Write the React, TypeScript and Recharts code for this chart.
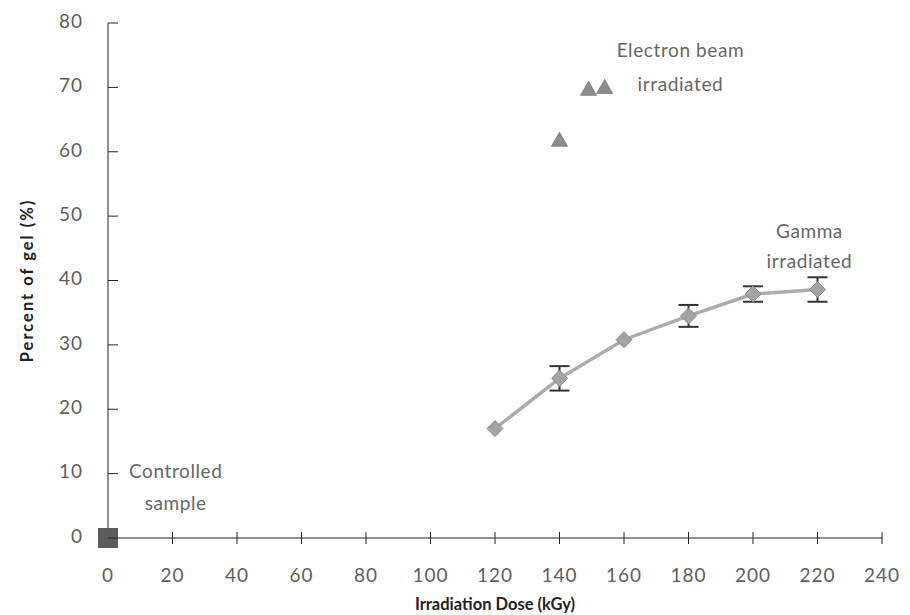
import { ComposedChart, Line, Scatter, XAxis, YAxis, ErrorBar, ReferenceDot } from "recharts";

const doseTicks = [0, 20, 40, 60, 80, 100, 120, 140, 160, 180, 200, 220, 240];
const gelTicks = [0, 10, 20, 30, 40, 50, 60, 70, 80];

const gammaDose = [120, 140, 160, 180, 200, 220];
const gammaGel = [17, 24.8, 30.8, 34.5, 37.9, 38.6];
// no visible error bar at 120 and 160
const gammaErr = [null, 1.9, null, 1.7, 1.2, 1.9];

const electronDose = [140, 149, 154];
const electronGel = [61.8, 69.7, 70];

const controlDose = [0];
const controlGel = [0];

const gamma = gammaDose.map((x, i) => ({ x, y: gammaGel[i], err: gammaErr[i] }));
const electron = electronDose.map((x, i) => ({ x, y: electronGel[i] }));
const control = controlDose.map((x, i) => ({ x, y: controlGel[i] }));

const notes = [
  { x: 177.5, y: 75.5, lines: ["Electron beam", "irradiated"], gap: 34 },
  { x: 217.5, y: 47.4, lines: ["Gamma", "irradiated"], gap: 30 },
  { x: 21, y: 10.1, lines: ["Controlled", "sample"], gap: 32 },
];

const FONT = "Lato, 'Open Sans', sans-serif";
const TICK = "#5e5e5e";

const XTick = (p: any) => (
  <g>
    {p.payload.value !== 0 && <line x1={p.x} x2={p.x} y1={p.y - 6} y2={p.y + 6} stroke="#222" />}
    <text x={p.x} y={p.y + 39} textAnchor="middle" dominantBaseline="middle" fontSize={19} letterSpacing={1} fontFamily={FONT} fill={TICK}>
      {p.payload.value}
    </text>
  </g>
);

const YTick = (p: any) => (
  <g>
    <line x1={p.x} x2={p.x + 10} y1={p.y} y2={p.y} stroke="#222" />
    <text x={p.x - 25} y={p.y} textAnchor="end" dominantBaseline="middle" fontSize={19} letterSpacing={1} fontFamily={FONT} fill={TICK}>
      {p.payload.value}
    </text>
  </g>
);

const Diamond = (p: any) => {
  const { cx, cy } = p;
  if (cx == null || cy == null) return <g />;
  const r = 8;
  return (
    <polygon
      points={`${cx},${cy - r} ${cx + r},${cy} ${cx},${cy + r} ${cx - r},${cy}`}
      fill="#a3a3a3"
      stroke="#8a8a8a"
      strokeWidth={1}
    />
  );
};

const Hidden = () => <g />;

const Triangle = (p: any) => {
  const { cx, cy } = p;
  const w = 8;
  return (
    <polygon points={`${cx},${cy - 8} ${cx + w},${cy + 6} ${cx - w},${cy + 6}`} fill="#8c8c8c" stroke="#777" strokeWidth={0.8} />
  );
};

const Square = (p: any) => {
  const { cx, cy } = p;
  return <rect x={cx - 10} y={cy - 10} width={20} height={20} fill="#5a5a5a" />;
};

const Note = (note: (typeof notes)[number]) => (p: any) => (
  <text x={p.cx} y={p.cy} textAnchor="middle" dominantBaseline="middle" fontSize={19} letterSpacing={0.6} fontFamily={FONT} fill="#666">
    {note.lines.map((l, i) => (
      <tspan key={i} x={p.cx} dy={i === 0 ? 0 : note.gap}>{l}</tspan>
    ))}
  </text>
);

export default function App() {
  return (
    <div style={{ position: "absolute", left: 0, top: 0, width: 910, height: 615, background: "#fff" }}>
      <ComposedChart width={910} height={615} margin={{ top: 23, right: 28, bottom: 0, left: 0 }}>
        <XAxis
          type="number"
          dataKey="x"
          domain={[0, 240]}
          ticks={doseTicks}
          interval={0}
          tickSize={0}
          tickMargin={0}
          tick={XTick}
          stroke="#222"
          allowDuplicatedCategory={false}
          label={{ value: "Irradiation Dose (kGy)", position: "insideBottom", offset: 0, dy: -5, fontSize: 16.5, fontWeight: 700, fontFamily: FONT, fill: "#222" }}
          height={77}
        />
        <YAxis
          type="number"
          dataKey="y"
          domain={[0, 80]}
          ticks={gelTicks}
          interval={0}
          width={108}
          tickSize={0}
          tickMargin={0}
          tick={YTick}
          stroke="#222"
          label={{ value: "Percent of gel (%)", angle: -90, position: "insideLeft", dx: 22, dy: 0, fontSize: 16.5, fontWeight: 700, letterSpacing: 2, fontFamily: FONT, fill: "#222", style: { textAnchor: "middle" } }}
        />
        <Line
          data={gamma}
          dataKey="y"
          stroke="#ababab"
          strokeWidth={3.5}
          dot={false}
          activeDot={false}
          isAnimationActive={false}
        />
        <Scatter data={gamma} dataKey="y" shape={Hidden} isAnimationActive={false}>
          <ErrorBar dataKey="err" direction="y" width={10} stroke="#333" strokeWidth={2} />
        </Scatter>
        <Scatter data={gamma} dataKey="y" shape={Diamond} isAnimationActive={false} />
        <Scatter data={electron} dataKey="y" shape={Triangle} isAnimationActive={false} />
        <Scatter data={control} dataKey="y" shape={Square} isAnimationActive={false} />
        {notes.map((n, i) => (
          <ReferenceDot key={i} x={n.x} y={n.y} r={0} shape={Note(n)} />
        ))}
      </ComposedChart>
    </div>
  );
}
